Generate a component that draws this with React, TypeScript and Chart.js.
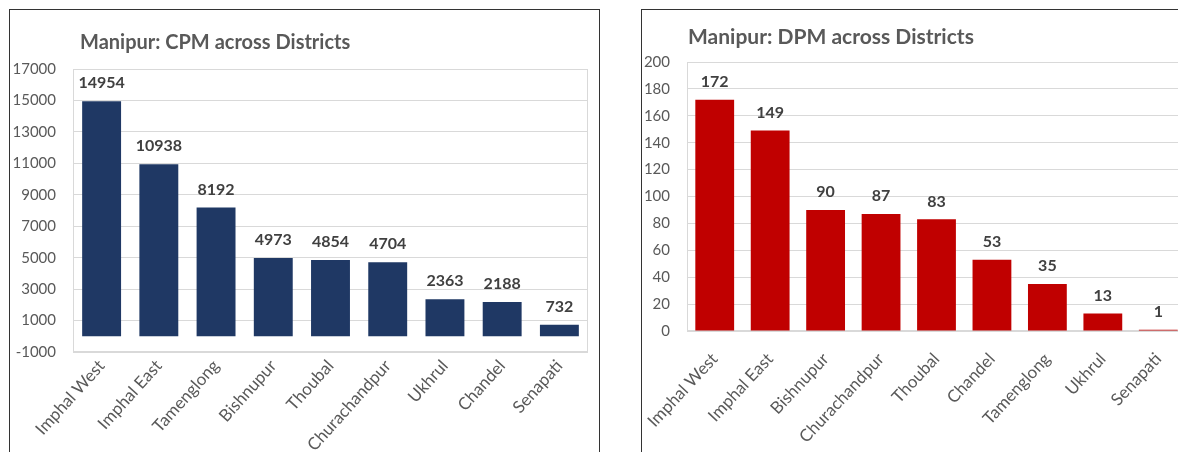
import React, { useEffect, useRef } from "react";
import { Chart, registerables } from "chart.js";

Chart.register(...registerables);

const FONT = "Lato, 'Open Sans', sans-serif";
const TEXT_GRAY = "#595959";
const LABEL_DARK = "#404040";
const GRID = "#d9d9d9";
const PANEL_LINE = "#333333";

// CPM by district
const cpmTitle = "Manipur: CPM across Districts";
const cpmDistricts = [
  "Imphal West",
  "Imphal East",
  "Tamenglong",
  "Bishnupur",
  "Thoubal",
  "Churachandpur",
  "Ukhrul",
  "Chandel",
  "Senapati",
];
const cpmValues = [14954, 10938, 8192, 4973, 4854, 4704, 2363, 2188, 732];
const cpmAxis = { min: -1000, max: 17000, step: 2000 };

// DPM by district
const dpmTitle = "Manipur: DPM across Districts";
const dpmDistricts = [
  "Imphal West",
  "Imphal East",
  "Bishnupur",
  "Churachandpur",
  "Thoubal",
  "Chandel",
  "Tamenglong",
  "Ukhrul",
  "Senapati",
];
const dpmValues = [172, 149, 90, 87, 83, 53, 35, 13, 1];
const dpmAxis = { min: 0, max: 200, step: 20 };

type Geometry = {
  left: number; // canvas offset on the page
  width: number;
  height: number;
  areaLeft: number; // plot area edges inside the canvas
  areaTop: number;
  areaRight: number;
  areaBottom: number;
  titleX: number;
  titleY: number;
  titleSize: number;
  xPad: number;
  xRotation: number;
  barPct: number;
};

// light box around the plot area
const plotFrame = {
  id: "plotFrame",
  beforeDatasetsDraw(chart: any) {
    const { ctx, chartArea } = chart;
    const l = Math.round(chartArea.left) + 0.5;
    const t = Math.round(chartArea.top) + 0.5;
    const r = Math.round(chartArea.right) - 0.5;
    const b = Math.round(chartArea.bottom) - 0.5;
    ctx.save();
    ctx.strokeStyle = GRID;
    ctx.lineWidth = 1;
    ctx.strokeRect(l, t, r - l, b - t);
    ctx.restore();
  },
};

// value written above each bar
const valueLabels = {
  id: "valueLabels",
  afterDatasetsDraw(chart: any) {
    const { ctx } = chart;
    const meta = chart.getDatasetMeta(0);
    const data = chart.data.datasets[0].data as number[];
    ctx.save();
    ctx.font = `bold 16px ${FONT}`;
    ctx.fillStyle = LABEL_DARK;
    ctx.textAlign = "center";
    ctx.textBaseline = "middle";
    meta.data.forEach((bar: any, i: number) => {
      ctx.fillText(String(data[i]), bar.x, bar.y - 18);
    });
    ctx.restore();
  },
};

// chart heading, left aligned
const panelTitle = {
  id: "panelTitle",
  afterDraw(chart: any, _args: any, opts: any) {
    const { ctx } = chart;
    ctx.save();
    ctx.font = `bold ${opts.size}px ${FONT}`;
    ctx.fillStyle = TEXT_GRAY;
    ctx.textAlign = "left";
    ctx.textBaseline = "alphabetic";
    ctx.fillText(opts.text, opts.x, opts.y);
    ctx.restore();
  },
};

function BarPanel(props: {
  title: string;
  labels: string[];
  values: number[];
  color: string;
  axis: { min: number; max: number; step: number };
  geo: Geometry;
}) {
  const { title, labels, values, color, axis, geo } = props;
  const ref = useRef<HTMLCanvasElement>(null);

  useEffect(() => {
    const chart = new Chart(ref.current as HTMLCanvasElement, {
      type: "bar",
      data: {
        labels,
        datasets: [
          {
            data: values,
            backgroundColor: color,
            borderWidth: 0,
            barPercentage: geo.barPct,
            categoryPercentage: 1,
          },
        ],
      },
      options: {
        responsive: false,
        animation: false,
        devicePixelRatio: 1,
        layout: {
          padding: {
            left: 0,
            top: geo.areaTop,
            right: geo.width - geo.areaRight,
            bottom: 0,
          },
        },
        plugins: {
          legend: { display: false },
          tooltip: { enabled: false },
          panelTitle: { text: title, x: geo.titleX, y: geo.titleY, size: geo.titleSize },
        } as any,
        scales: {
          x: {
            grid: { display: false, drawTicks: false },
            border: { display: false },
            ticks: {
              autoSkip: false,
              minRotation: geo.xRotation,
              maxRotation: geo.xRotation,
              padding: geo.xPad,
              color: TEXT_GRAY,
              font: { family: FONT, size: 17 },
            },
            afterFit: (scale: any) => {
              scale.height = geo.height - geo.areaBottom;
            },
          },
          y: {
            min: axis.min,
            max: axis.max,
            ticks: {
              stepSize: axis.step,
              padding: 17,
              color: TEXT_GRAY,
              font: { family: FONT, size: 15 },
              callback: (v: any) => String(v),
            },
            grid: { color: GRID, drawTicks: false },
            border: { color: GRID },
            afterFit: (scale: any) => {
              scale.width = geo.areaLeft;
            },
          },
        },
      },
      plugins: [plotFrame, valueLabels, panelTitle],
    });
    return () => chart.destroy();
  }, []);

  return (
    <canvas
      ref={ref}
      width={geo.width}
      height={geo.height}
      style={{
        position: "absolute",
        left: geo.left,
        top: 0,
        width: geo.width,
        height: geo.height,
      }}
    />
  );
}

const cpmGeo: Geometry = {
  left: 0,
  width: 620,
  height: 452,
  areaLeft: 73,
  areaTop: 69,
  areaRight: 588,
  areaBottom: 352,
  titleX: 80,
  titleY: 49,
  titleSize: 20,
  xPad: 4,
  xRotation: 48,
  barPct: 0.68,
};

const dpmGeo: Geometry = {
  left: 600,
  width: 620,
  height: 452,
  areaLeft: 87,
  areaTop: 62,
  areaRight: 586,
  areaBottom: 331,
  titleX: 88,
  titleY: 44,
  titleSize: 21,
  xPad: 18,
  xRotation: 47,
  barPct: 0.7,
};

export default function App() {
  return (
    <div
      style={{
        position: "absolute",
        left: 0,
        top: 0,
        width: 1178,
        height: 452,
        overflow: "hidden",
        background: "#ffffff",
      }}
    >
      <BarPanel
        title={cpmTitle}
        labels={cpmDistricts}
        values={cpmValues}
        color="#1f3864"
        axis={cpmAxis}
        geo={cpmGeo}
      />
      <BarPanel
        title={dpmTitle}
        labels={dpmDistricts}
        values={dpmValues}
        color="#c00000"
        axis={dpmAxis}
        geo={dpmGeo}
      />
      {/* panel outlines */}
      <div
        style={{
          position: "absolute",
          left: 9,
          top: 9,
          width: 589,
          height: 460,
          border: `1.5px solid ${PANEL_LINE}`,
          pointerEvents: "none",
        }}
      />
      <div
        style={{
          position: "absolute",
          left: 641,
          top: 9,
          width: 600,
          height: 460,
          border: `1.5px solid ${PANEL_LINE}`,
          pointerEvents: "none",
        }}
      />
    </div>
  );
}
